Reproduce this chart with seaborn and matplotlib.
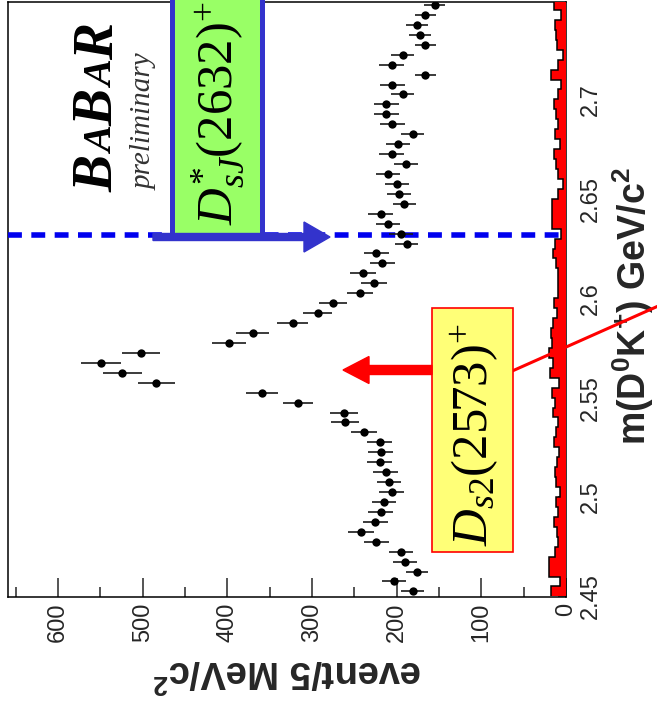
import numpy as np
import pandas as pd
import matplotlib
matplotlib.use("Agg")
import matplotlib.pyplot as plt
import seaborn as sns
from matplotlib.transforms import Affine2D
from matplotlib.patches import Rectangle, FancyArrow
from matplotlib.lines import Line2D
from matplotlib.ticker import FixedLocator, FuncFormatter

# ---------------- data ----------------
bin_low = 2.45
bin_width = 0.005
n_bins = 60
mass_edges = np.round(bin_low + bin_width * np.arange(n_bins + 1), 4)
mass_centers = 0.5 * (mass_edges[:-1] + mass_edges[1:])

events = [181, 203, 176, 190, 195, 224, 242, 225, 219, 215,
          206, 209, 213, 220, 219, 220, 239, 261, 262, 317,
          359, 484, 524, 549, 502, 398, 370, 323, 293, 275,
          243, 227, 240, 217, 224, 188, 195, 210, 219, 191,
          197, 200, 210, 189, 206, 198, 181, 205, 212, 212,
          193, 205, 166, 206, 193, 166, 172, 176, 166, 155]

background = [18, 7, 20, 20, 13, 9, 11, 14, 10, 12,
              7, 12, 13, 11, 8, 14, 12, 9, 15, 13,
              16, 8, 19, 15, 20, 17, 18, 15, 11, 14,
              10, 9, 10, 12, 15, 13, 6, 16, 16, 16,
              10, 4, 10, 12, 14, 7, 13, 10, 12, 14,
              10, 6, 18, 10, 4, 11, 12, 13, 6, 14]

event_ticks = [0, 100, 200, 300, 400, 500, 600]
event_minor = [50, 150, 250, 350, 450, 550, 650]
mass_ticks = [2.45, 2.5, 2.55, 2.6, 2.65, 2.7, 2.75]

DSJ_MASS = 2.632
xlabel_text = "event/5 MeV/c$^{2}$"
ylabel_text = "m(D$^{0}$K$^{+}$) GeV/c$^{2}$"
dsj_label = r"$\mathit{D}^{*}_{\mathit{sJ}}$(2632)$^{+}$"
ds2_label = r"$\mathit{D}_{\mathit{s}2}$(2573)$^{+}$"
logo_letters = ["B", "A", "B", "A", "R"]

# ---------------- style ----------------
sns.set_style("ticks")
plt.rcParams["font.family"] = ["Liberation Sans", "DejaVu Sans"]
plt.rcParams["mathtext.fontset"] = "custom"
plt.rcParams["mathtext.rm"] = "Liberation Serif"
plt.rcParams["mathtext.it"] = "Liberation Serif:italic"
plt.rcParams["mathtext.bf"] = "Liberation Serif:bold"
plt.rcParams["mathtext.default"] = "regular"

W, H = 657, 709
fig = plt.figure(figsize=(W / 100, H / 100), dpi=100)
fig.patch.set_facecolor("white")
pix = Affine2D().scale(1 / W, -1 / H).translate(0, 1) + fig.transFigure

ax = fig.add_axes([8 / W, 1 - 597 / H, 558 / W, 595 / H])
ax.set_facecolor("white")

df = pd.DataFrame({"mass": mass_centers, "events": events})

# background histogram (red)
ax.stairs(background, mass_edges, orientation="horizontal", fill=True,
          color="#ff0000", zorder=2.6)
ax.stairs(background, mass_edges, orientation="horizontal", fill=False,
          color="black", lw=1.1, baseline=None, zorder=2.7)

# dashed D_sJ line
ax.axhline(DSJ_MASS, color="#0000ee", lw=4, dashes=(2.5, 1.7), zorder=3)

# data points with errors
ax.errorbar(df["events"], df["mass"], xerr=np.sqrt(df["events"]), fmt="none",
            ecolor="#1a1a1a", elinewidth=1.2, capsize=0, zorder=4)
sns.scatterplot(data=df, x="events", y="mass", ax=ax, color="black", s=36,
                edgecolor="black", linewidth=0, zorder=5, legend=False)

ax.set_xlim(659, 0)
ax.set_ylim(2.4497, 2.749)
ax.set_xlabel("")
ax.set_ylabel("")

for s in ax.spines.values():
    s.set_linewidth(1.1)
    s.set_color("black")

ax.xaxis.set_major_locator(FixedLocator(event_ticks))
ax.xaxis.set_minor_locator(FixedLocator(event_minor))
ax.tick_params(axis="x", which="major", direction="in", length=13.5, width=1.1,
               labelsize=17, labelrotation=90, pad=4, top=False, bottom=True)
ax.tick_params(axis="x", which="minor", direction="in", length=7, width=1.1,
               top=False, bottom=True)
ax.yaxis.tick_right()
ax.yaxis.set_major_locator(FixedLocator(mass_ticks))
ax.yaxis.set_major_formatter(FuncFormatter(lambda v, p: "%g" % v))
ax.tick_params(axis="y", which="major", direction="in", length=6, width=1.1,
               labelsize=17, labelrotation=90, pad=10, left=False, right=True)
for lab in ax.get_yticklabels():
    lab.set_verticalalignment("center")

# ---------------- annotations ----------------
# axis titles
fig.text(287, 660, xlabel_text, transform=pix, rotation=180, rotation_mode="anchor",
         ha="center", va="baseline", fontsize=27.5, fontweight="bold")
fig.text(646, 445, ylabel_text, transform=pix, rotation=90, rotation_mode="anchor",
         ha="left", va="baseline", fontsize=27, fontweight="bold")

# BABAR logo
logo_starts = [192, 154, 126, 88, 60]
logo_sizes = [40, 29, 40, 29, 40]
for ch, ystart, size in zip(logo_letters, logo_starts, logo_sizes):
    fig.text(113, ystart, ch, transform=pix, rotation=90, rotation_mode="anchor",
             ha="left", va="baseline", fontsize=size, fontfamily="Liberation Serif",
             fontweight="bold", fontstyle="italic", color="black", zorder=6)
fig.text(152, 190, "preliminary", transform=pix, rotation=90, rotation_mode="anchor",
         ha="left", va="baseline", fontsize=21, fontfamily="Liberation Serif",
         fontstyle="italic", color="#333333", zorder=6)

# green box D_sJ(2632)
fig.add_artist(Rectangle((172, -10), 90, 247, transform=pix, facecolor="#99ff66",
                         edgecolor="#3333cc", linewidth=3.6, zorder=5, clip_on=False))
fig.text(233, 225, dsj_label, transform=pix, rotation=90, rotation_mode="anchor",
         ha="left", va="baseline", fontsize=36.5, fontfamily="Liberation Serif",
         color="black", zorder=6)
fig.add_artist(FancyArrow(153, 237, 177, 0, width=7, head_width=30, head_length=26,
                          length_includes_head=True, transform=pix, color="#3333cc",
                          zorder=6, clip_on=False))

# yellow box D_s2(2573)
fig.add_artist(Line2D([510, 665], [372, 303], transform=pix, color="#ff0000",
                      lw=2.2, zorder=5, clip_on=False))
fig.add_artist(Rectangle((432, 308), 81, 244, transform=pix, facecolor="#ffff77",
                         edgecolor="#ff0000", linewidth=1.2, zorder=5, clip_on=False))
fig.text(487, 546, ds2_label, transform=pix, rotation=90, rotation_mode="anchor",
         ha="left", va="baseline", fontsize=36.5, fontfamily="Liberation Serif",
         color="black", zorder=6)
fig.add_artist(FancyArrow(432, 370, -89, 0, width=9, head_width=27, head_length=26,
                          length_includes_head=True, transform=pix, color="#ff0000",
                          zorder=6, clip_on=False))

fig.savefig("out.png", dpi=100, facecolor="white")
